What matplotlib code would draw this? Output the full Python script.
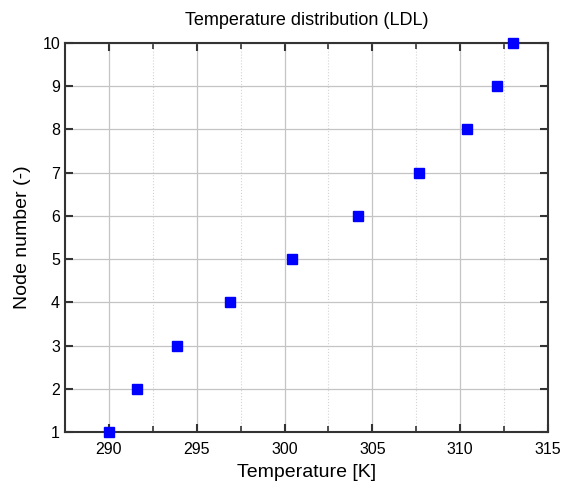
import numpy as np
import matplotlib.pyplot as plt
from matplotlib.ticker import MultipleLocator

# temperature of each node
temperature = [290.0, 291.6, 293.9, 296.9, 300.45, 304.2, 307.65, 310.4, 312.1, 313.0]
node = [1, 2, 3, 4, 5, 6, 7, 8, 9, 10]

plt.rcParams['font.family'] = ['Liberation Sans', 'DejaVu Sans']

fig = plt.figure(figsize=(5.71, 4.9), dpi=100)
ax = fig.add_axes([0.1138, 0.1184, 0.8459, 0.7938])

ax.plot(temperature, node, "s", color="#0000ff", markersize=7, zorder=5, clip_on=False)

ax.set_xlim(287.5, 315)
ax.set_ylim(1, 10)
ax.xaxis.set_major_locator(MultipleLocator(5))
ax.xaxis.set_minor_locator(MultipleLocator(2.5))
ax.yaxis.set_major_locator(MultipleLocator(1))

ax.grid(which="major", color="#c4c4c4", linewidth=0.9)
ax.grid(which="minor", axis="x", color="#d4d4d4", linestyle=":", linewidth=0.8)
ax.set_axisbelow(True)

ax.tick_params(which="both", direction="in", top=True, right=True, labelsize=11.5, color="#333333")
ax.tick_params(which="major", length=6, width=1.5)
ax.tick_params(which="minor", length=4, width=1.2)
ax.tick_params(axis="x", pad=7)
for s in ax.spines.values():
    s.set_linewidth(1.5)
    s.set_color("#333333")

ax.set_title("Temperature distribution (LDL)", fontsize=13, pad=13)
ax.set_xlabel("Temperature [K]", fontsize=14, labelpad=5)
ax.set_ylabel("Node number (-)", fontsize=14, labelpad=8)

fig.savefig("out.png", dpi=100)
